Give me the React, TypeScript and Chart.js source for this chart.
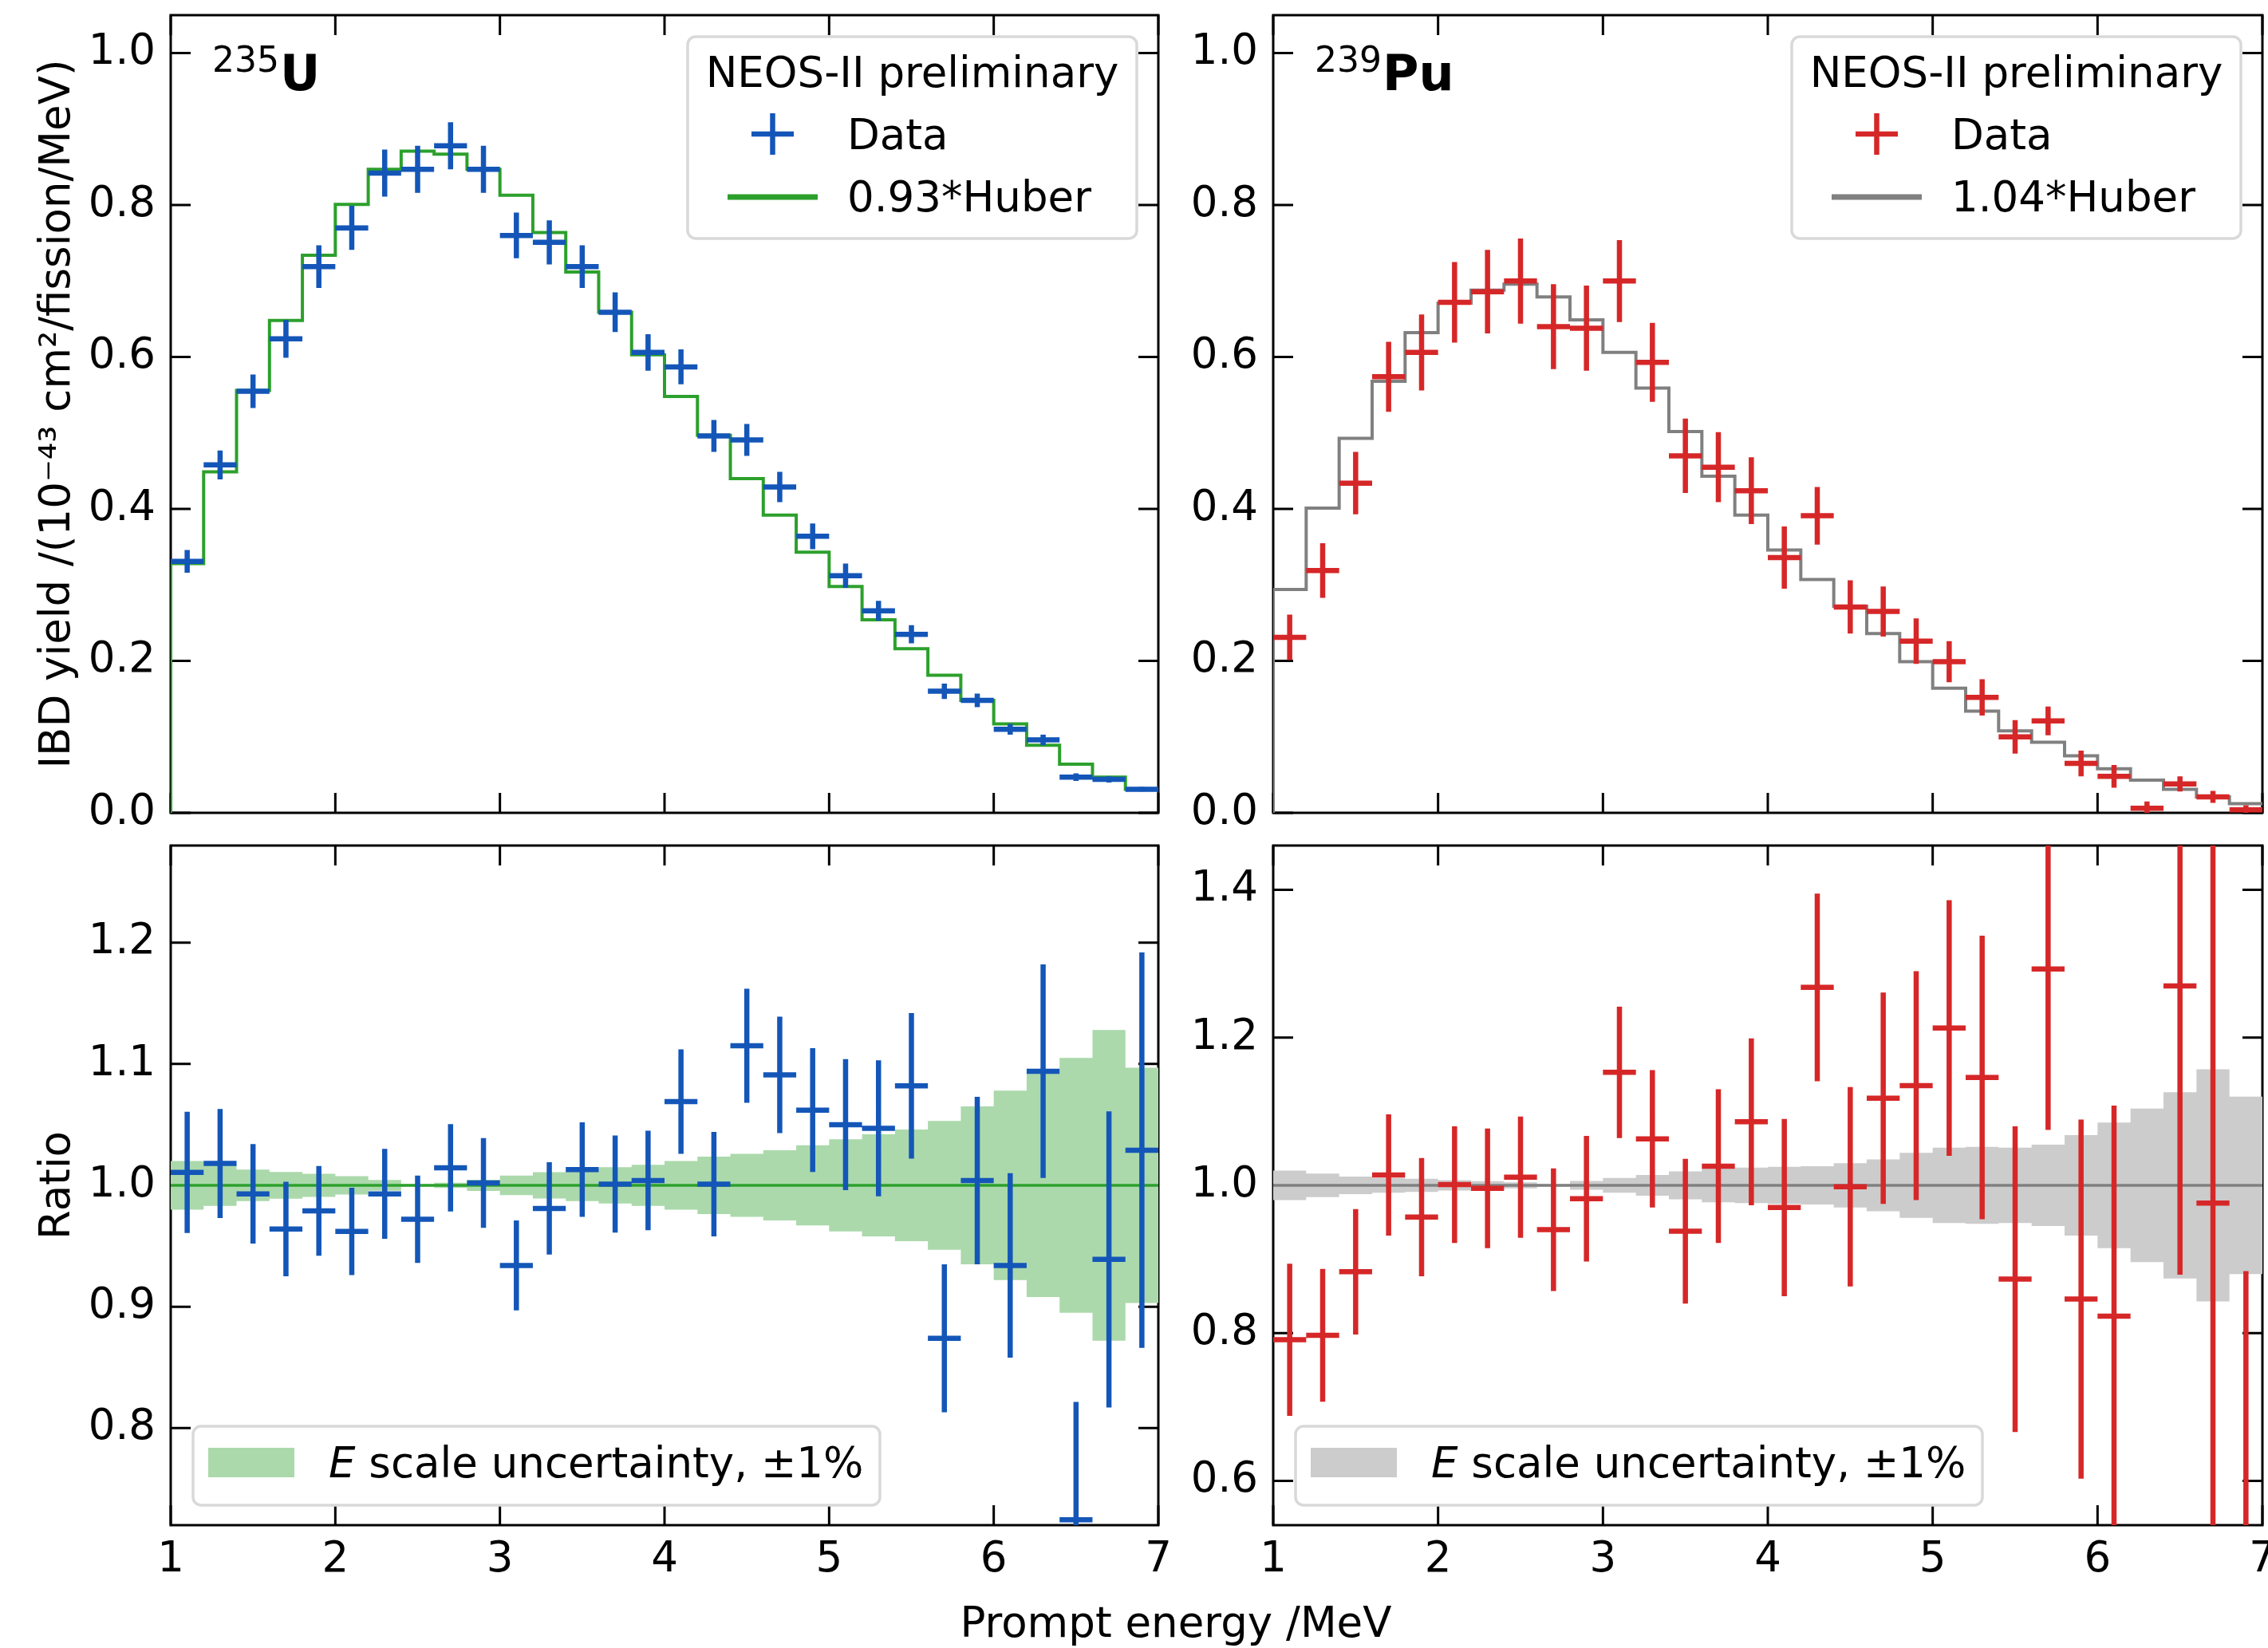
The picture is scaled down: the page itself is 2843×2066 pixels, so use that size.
import React, { useEffect, useRef } from "react";
import { Chart, registerables } from "chart.js";

Chart.register(...registerables);

const PAGE_W = 2843;
const PAGE_H = 2066;
const FONT = "'DejaVu Sans', 'Liberation Sans', sans-serif";
Chart.defaults.font.family = FONT;
Chart.defaults.color = "#000";

// ---------------- data ----------------
const binEdges = [1.0, 1.2, 1.4, 1.6, 1.8, 2.0, 2.2, 2.4, 2.6, 2.8, 3.0, 3.2, 3.4, 3.6, 3.8, 4.0, 4.2, 4.4, 4.6, 4.8, 5.0, 5.2, 5.4, 5.6, 5.8, 6.0, 6.2, 6.4, 6.6, 6.8, 7.0];
const binCenters = [1.1, 1.3, 1.5, 1.7, 1.9, 2.1, 2.3, 2.5, 2.7, 2.9, 3.1, 3.3, 3.5, 3.7, 3.9, 4.1, 4.3, 4.5, 4.7, 4.9, 5.1, 5.3, 5.5, 5.7, 5.9, 6.1, 6.3, 6.5, 6.7, 6.9];

const xTickValues = [1, 2, 3, 4, 5, 6, 7];
const yieldTickValues = [0.0, 0.2, 0.4, 0.6, 0.8, 1.0];
const u235RatioTickValues = [0.8, 0.9, 1.0, 1.1, 1.2];
const pu239RatioTickValues = [0.6, 0.8, 1.0, 1.2, 1.4];

const u235Yield = [0.331, 0.458, 0.555, 0.624, 0.719, 0.770, 0.842, 0.847, 0.878, 0.847, 0.760, 0.751, 0.719, 0.659, 0.606, 0.587, 0.496, 0.491, 0.429, 0.364, 0.312, 0.266, 0.235, 0.160, 0.148, 0.110, 0.096, 0.047, 0.044, 0.031];
const u235YieldErr = [0.015, 0.019, 0.022, 0.025, 0.028, 0.029, 0.031, 0.031, 0.031, 0.031, 0.030, 0.029, 0.028, 0.026, 0.024, 0.023, 0.021, 0.021, 0.020, 0.017, 0.016, 0.013, 0.012, 0.010, 0.009, 0.007, 0.007, 0.005, 0.004, 0.003];
const u235Huber = [0.328, 0.449, 0.556, 0.648, 0.734, 0.801, 0.847, 0.871, 0.867, 0.847, 0.813, 0.764, 0.712, 0.659, 0.603, 0.548, 0.497, 0.440, 0.392, 0.343, 0.298, 0.254, 0.216, 0.181, 0.148, 0.117, 0.089, 0.064, 0.047, 0.031];
const u235Ratio = [1.0107, 1.018, 0.993, 0.964, 0.979, 0.962, 0.993, 0.972, 1.0145, 1.002, 0.934, 0.981, 1.013, 1.001, 1.004, 1.069, 1.001, 1.115, 1.091, 1.062, 1.050, 1.047, 1.082, 0.874, 1.004, 0.934, 1.094, 0.7245, 0.939, 1.029];
const u235RatioErr = [0.050, 0.045, 0.041, 0.039, 0.037, 0.036, 0.037, 0.036, 0.036, 0.037, 0.037, 0.038, 0.039, 0.040, 0.041, 0.043, 0.043, 0.047, 0.048, 0.051, 0.054, 0.056, 0.060, 0.061, 0.069, 0.076, 0.088, 0.097, 0.122, 0.163];
const u235EscaleBand = [0.020, 0.017, 0.013, 0.011, 0.0095, 0.0075, 0.0045, 0.001, 0.0022, 0.0046, 0.008, 0.0108, 0.013, 0.015, 0.017, 0.020, 0.0236, 0.026, 0.029, 0.033, 0.038, 0.042, 0.046, 0.053, 0.065, 0.078, 0.092, 0.105, 0.128, 0.097];

const pu239Yield = [0.231, 0.319, 0.434, 0.574, 0.606, 0.672, 0.686, 0.700, 0.640, 0.638, 0.700, 0.593, 0.470, 0.455, 0.424, 0.336, 0.391, 0.271, 0.265, 0.226, 0.199, 0.152, 0.100, 0.121, 0.065, 0.048, 0.006, 0.038, 0.021, 0.004];
const pu239YieldErr = [0.030, 0.036, 0.041, 0.046, 0.050, 0.053, 0.055, 0.056, 0.056, 0.056, 0.054, 0.052, 0.049, 0.046, 0.044, 0.041, 0.038, 0.035, 0.033, 0.030, 0.027, 0.024, 0.022, 0.019, 0.017, 0.015, 0.009, 0.010, 0.008, 0.006];
const pu239Huber = [0.294, 0.401, 0.493, 0.568, 0.632, 0.671, 0.688, 0.696, 0.679, 0.649, 0.606, 0.559, 0.502, 0.443, 0.392, 0.346, 0.307, 0.272, 0.236, 0.199, 0.164, 0.134, 0.108, 0.093, 0.075, 0.058, 0.043, 0.031, 0.021, 0.012];
const pu239Ratio = [0.791, 0.797, 0.883, 1.014, 0.957, 1.001, 0.996, 1.011, 0.940, 0.982, 1.153, 1.063, 0.938, 1.026, 1.086, 0.970, 1.268, 0.998, 1.118, 1.135, 1.213, 1.146, 0.873, 1.293, 0.846, 0.823, 0.14, 1.270, 0.976, 0.33];
const pu239RatioErr = [0.103, 0.090, 0.085, 0.082, 0.080, 0.079, 0.081, 0.082, 0.083, 0.085, 0.089, 0.093, 0.098, 0.104, 0.113, 0.120, 0.127, 0.135, 0.143, 0.155, 0.173, 0.192, 0.207, 0.218, 0.243, 0.285, 0.2, 0.391, 0.5, 0.554];
const pu239EscaleBand = [0.020, 0.016, 0.012, 0.010, 0.009, 0.007, 0.0056, 0.004, 0.002, 0.006, 0.010, 0.014, 0.019, 0.023, 0.024, 0.025, 0.026, 0.030, 0.035, 0.044, 0.051, 0.052, 0.051, 0.055, 0.068, 0.085, 0.104, 0.126, 0.157, 0.120];

// ---------------- styles ----------------
const BLUE = "#1456b8";
const RED = "#d62728";
const GREEN = "#2ca02c";
const GREEN_BAND = "#abd9ab";
const GRAY = "#808080";
const GRAY_BAND = "#cccccc";
const FS = 53;
const TICK_LEN = 25;

// ---------------- dataset builders ----------------
function crossDatasets(values: number[], errs: number[], color: string) {
  const vertical: any[] = [];
  const horizontal: any[] = [];
  values.forEach((v, i) => {
    const c = binCenters[i];
    vertical.push({ x: c, y: v - errs[i] }, { x: c, y: v + errs[i] }, { x: c, y: null });
    horizontal.push({ x: binEdges[i], y: v }, { x: binEdges[i + 1], y: v }, { x: binEdges[i + 1], y: null });
  });
  const common = {
    borderColor: color,
    backgroundColor: color,
    borderWidth: 6.5,
    pointRadius: 0,
    pointHoverRadius: 0,
    fill: false,
    spanGaps: false,
    tension: 0,
    borderCapStyle: "butt",
    order: 0,
  };
  return [
    { ...common, label: "Data", data: vertical },
    { ...common, label: "Data bins", data: horizontal },
  ];
}

function stepDataset(values: number[], color: string, label: string) {
  const pts: any[] = [{ x: binEdges[0], y: 0 }];
  values.forEach((v, i) => pts.push({ x: binEdges[i], y: v }));
  pts.push({ x: binEdges[binEdges.length - 1], y: values[values.length - 1] });
  return {
    label,
    data: pts,
    stepped: true,
    borderColor: color,
    borderWidth: 4,
    pointRadius: 0,
    fill: false,
    order: 1,
  };
}

function bandDatasets(halfWidths: number[], fillColor: string, lineColor: string) {
  const mk = (sign: number) => {
    const pts: any[] = halfWidths.map((b, i) => ({ x: binEdges[i], y: 1 + sign * b }));
    pts.push({ x: binEdges[binEdges.length - 1], y: 1 + sign * halfWidths[halfWidths.length - 1] });
    return pts;
  };
  return [
    {
      label: "unity",
      data: [{ x: binEdges[0], y: 1 }, { x: binEdges[binEdges.length - 1], y: 1 }],
      borderColor: lineColor,
      borderWidth: 3.5,
      pointRadius: 0,
      fill: false,
      order: 1,
    },
    {
      label: "E scale uncertainty, ±1%",
      data: mk(1),
      stepped: true,
      borderColor: "rgba(0,0,0,0)",
      borderWidth: 1,
      backgroundColor: fillColor,
      pointRadius: 0,
      fill: "+1",
      order: 2,
    },
    {
      label: "band low",
      data: mk(-1),
      stepped: true,
      borderColor: "rgba(0,0,0,0)",
      borderWidth: 1,
      pointRadius: 0,
      fill: false,
      order: 3,
    },
  ];
}

// ---------------- drawing helpers ----------------
function roundRectPath(ctx: CanvasRenderingContext2D, x: number, y: number, w: number, h: number, r: number) {
  ctx.beginPath();
  ctx.moveTo(x + r, y);
  ctx.lineTo(x + w - r, y);
  ctx.arcTo(x + w, y, x + w, y + r, r);
  ctx.lineTo(x + w, y + h - r);
  ctx.arcTo(x + w, y + h, x + w - r, y + h, r);
  ctx.lineTo(x + r, y + h);
  ctx.arcTo(x, y + h, x, y + h - r, r);
  ctx.lineTo(x, y + r);
  ctx.arcTo(x, y, x + r, y, r);
  ctx.closePath();
}

function legendFrame(ctx: CanvasRenderingContext2D, x: number, y: number, w: number, h: number) {
  roundRectPath(ctx, x, y, w, h, 10);
  ctx.fillStyle = "rgba(255,255,255,0.8)";
  ctx.fill();
  ctx.strokeStyle = "#d9d9d9";
  ctx.lineWidth = 3.5;
  ctx.stroke();
}

function drawTopLegend(ctx: CanvasRenderingContext2D, bx: number, title: string, dataColor: string, lineColor: string, lineLabel: string) {
  const by = 46, w = 563, h = 253;
  legendFrame(ctx, bx, by, w, h);
  ctx.fillStyle = "#000";
  ctx.font = `${FS}px ${FONT}`;
  ctx.textBaseline = "alphabetic";
  ctx.textAlign = "center";
  ctx.fillText(title, bx + w / 2, 109);
  // data cross
  ctx.strokeStyle = dataColor;
  ctx.lineWidth = 6.5;
  ctx.lineCap = "butt";
  const cx = bx + 106.5, cy = 168;
  ctx.beginPath();
  ctx.moveTo(cx - 26.5, cy); ctx.lineTo(cx + 26.5, cy);
  ctx.moveTo(cx, cy - 26); ctx.lineTo(cx, cy + 26);
  ctx.stroke();
  // line
  ctx.strokeStyle = lineColor;
  ctx.lineWidth = 7;
  ctx.beginPath();
  ctx.moveTo(bx + 50, 247); ctx.lineTo(bx + 163, 247);
  ctx.stroke();
  ctx.textAlign = "left";
  ctx.fillStyle = "#000";
  ctx.fillText("Data", bx + 200, 187);
  ctx.fillText(lineLabel, bx + 200, 265);
}

function drawBottomLegend(ctx: CanvasRenderingContext2D, bx: number, patchColor: string) {
  const by = 1788, w = 861, h = 99;
  legendFrame(ctx, bx, by, w, h);
  ctx.fillStyle = patchColor;
  ctx.fillRect(bx + 19, 1815, 108, 37);
  ctx.fillStyle = "#000";
  ctx.textBaseline = "alphabetic";
  ctx.textAlign = "left";
  ctx.font = `italic ${FS}px ${FONT}`;
  const ex = bx + 170;
  ctx.fillText("E", ex, 1852);
  const ew = ctx.measureText("E").width;
  ctx.font = `${FS}px ${FONT}`;
  ctx.fillText(" scale uncertainty, ±1%", ex + ew, 1852);
}

function drawIsotope(ctx: CanvasRenderingContext2D, x: number, mass: string, symbol: string) {
  ctx.fillStyle = "#000";
  ctx.textBaseline = "alphabetic";
  ctx.textAlign = "left";
  ctx.font = `44px ${FONT}`;
  ctx.fillText(mass, x, 90);
  const w = ctx.measureText(mass).width;
  ctx.font = `bold 62px ${FONT}`;
  ctx.fillText(symbol, x + w + 1, 113);
}

// ---------------- panels ----------------
type Panel = {
  area: { left: number; right: number; top: number; bottom: number };
  yMin: number;
  yMax: number;
  yTicks: number[];
  showXLabels: boolean;
  yTitle?: string;
  datasets: any[];
  overlay: (ctx: CanvasRenderingContext2D) => void;
};

const panels: Panel[] = [
  {
    area: { left: 214, right: 1452, top: 19, bottom: 1019 },
    yMin: 0, yMax: 1.05, yTicks: yieldTickValues, showXLabels: false,
    yTitle: "IBD yield /(10⁻⁴³ cm²/fission/MeV)",
    datasets: [...crossDatasets(u235Yield, u235YieldErr, BLUE), stepDataset(u235Huber, GREEN, "0.93*Huber")],
    overlay: (ctx) => {
      drawIsotope(ctx, 266, "235", "U");
      drawTopLegend(ctx, 862, "NEOS-II preliminary", BLUE, GREEN, "0.93*Huber");
    },
  },
  {
    area: { left: 1596, right: 2836, top: 19, bottom: 1019 },
    yMin: 0, yMax: 1.05, yTicks: yieldTickValues, showXLabels: false,
    datasets: [...crossDatasets(pu239Yield, pu239YieldErr, RED), stepDataset(pu239Huber, GRAY, "1.04*Huber")],
    overlay: (ctx) => {
      drawIsotope(ctx, 1648, "239", "Pu");
      drawTopLegend(ctx, 2246, "NEOS-II preliminary", RED, GRAY, "1.04*Huber");
    },
  },
  {
    area: { left: 214, right: 1452, top: 1060, bottom: 1912 },
    yMin: 0.72, yMax: 1.28, yTicks: u235RatioTickValues, showXLabels: true,
    yTitle: "Ratio",
    datasets: [...crossDatasets(u235Ratio, u235RatioErr, BLUE), ...bandDatasets(u235EscaleBand, GREEN_BAND, GREEN)],
    overlay: (ctx) => {
      drawBottomLegend(ctx, 242, GREEN_BAND);
      ctx.fillStyle = "#000";
      ctx.font = `${FS}px ${FONT}`;
      ctx.textAlign = "center";
      ctx.textBaseline = "alphabetic";
      ctx.fillText("Prompt energy /MeV", 1474, 2052);
    },
  },
  {
    area: { left: 1596, right: 2836, top: 1060, bottom: 1912 },
    yMin: 0.54, yMax: 1.46, yTicks: pu239RatioTickValues, showXLabels: true,
    datasets: [...crossDatasets(pu239Ratio, pu239RatioErr, RED), ...bandDatasets(pu239EscaleBand, GRAY_BAND, GRAY)],
    overlay: (ctx) => {
      drawBottomLegend(ctx, 1624, GRAY_BAND);
    },
  },
];

function buildChart(canvas: HTMLCanvasElement, p: Panel) {
  const yWidth = 200;
  const padLeft = p.area.left - yWidth;
  const xHeight = PAGE_H - p.area.bottom;
  const titleCenterX = 73;
  const titlePadTop = titleCenterX - padLeft - (FS * 1.2) / 2;

  const framePlugin = {
    id: "frameTicks",
    beforeDatasetsDraw(chart: any) {
      const { ctx, chartArea: a, scales } = chart;
      const xs = scales.x, ys = scales.y;
      ctx.save();
      ctx.strokeStyle = "#000";
      ctx.lineWidth = 3;
      ctx.lineCap = "butt";
      ctx.beginPath();
      for (const v of xTickValues) {
        const px = xs.getPixelForValue(v);
        ctx.moveTo(px, a.bottom); ctx.lineTo(px, a.bottom - TICK_LEN);
        ctx.moveTo(px, a.top); ctx.lineTo(px, a.top + TICK_LEN);
      }
      for (const v of p.yTicks) {
        const py = ys.getPixelForValue(v);
        ctx.moveTo(a.left, py); ctx.lineTo(a.left + TICK_LEN, py);
        ctx.moveTo(a.right, py); ctx.lineTo(a.right - TICK_LEN, py);
      }
      ctx.stroke();
      ctx.strokeRect(a.left, a.top, a.right - a.left, a.bottom - a.top);
      ctx.restore();
    },
  };
  const overlayPlugin = {
    id: "overlay",
    afterDatasetsDraw(chart: any) {
      const ctx = chart.ctx;
      ctx.save();
      p.overlay(ctx);
      ctx.restore();
    },
  };

  return new Chart(canvas, {
    type: "line",
    data: { datasets: p.datasets },
    options: {
      responsive: false,
      maintainAspectRatio: false,
      animation: false,
      devicePixelRatio: 1,
      events: [],
      layout: { autoPadding: false, padding: { left: padLeft, top: p.area.top, right: PAGE_W - p.area.right, bottom: 0 } },
      plugins: { legend: { display: false }, tooltip: { enabled: false } },
      scales: {
        x: {
          type: "linear",
          min: 1,
          max: 7,
          grid: { display: false, drawTicks: false },
          border: { display: false },
          ticks: {
            display: p.showXLabels,
            padding: 12,
            autoSkip: false,
            maxRotation: 0,
            color: "#000",
            font: { size: FS, family: FONT },
            callback: (v: any) => String(v),
          },
          afterBuildTicks: (s: any) => { s.ticks = xTickValues.map((v) => ({ value: v })); },
          afterFit: (s: any) => { s.height = xHeight; s.paddingLeft = 0; s.paddingRight = 0; },
        },
        y: {
          type: "linear",
          min: p.yMin,
          max: p.yMax,
          grid: { display: false, drawTicks: false },
          border: { display: false },
          ticks: {
            padding: 19,
            color: "#000",
            font: { size: FS, family: FONT },
            callback: (v: any) => Number(v).toFixed(1),
          },
          title: {
            display: !!p.yTitle,
            text: p.yTitle || "",
            color: "#000",
            font: { size: FS, family: FONT },
            padding: { top: titlePadTop, bottom: 0 },
          },
          afterBuildTicks: (s: any) => { s.ticks = p.yTicks.map((v) => ({ value: v })); },
          afterFit: (s: any) => { s.width = yWidth; s.paddingTop = 0; s.paddingBottom = 0; },
        },
      },
    } as any,
    plugins: [framePlugin, overlayPlugin],
  } as any);
}

export default function App() {
  const refs = [useRef<HTMLCanvasElement>(null), useRef<HTMLCanvasElement>(null), useRef<HTMLCanvasElement>(null), useRef<HTMLCanvasElement>(null)];
  useEffect(() => {
    const charts = panels.map((p, i) => buildChart(refs[i].current as HTMLCanvasElement, p));
    return () => charts.forEach((c) => c.destroy());
  }, []);
  return (
    <div style={{ position: "absolute", left: 0, top: 0, width: PAGE_W, height: PAGE_H, background: "#fff", overflow: "hidden" }}>
      {refs.map((r, i) => (
        <canvas
          key={i}
          ref={r}
          width={PAGE_W}
          height={PAGE_H}
          style={{ position: "absolute", left: 0, top: 0, width: PAGE_W, height: PAGE_H, pointerEvents: "none" }}
        />
      ))}
    </div>
  );
}
